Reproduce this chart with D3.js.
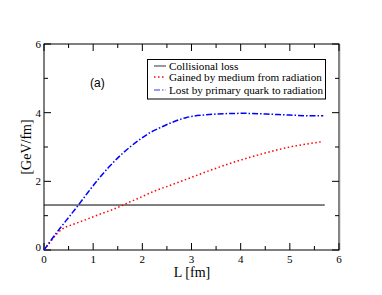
<!DOCTYPE html>
<html><head><meta charset="utf-8">
<script src="https://cdn.jsdelivr.net/npm/d3@7"></script>
<style>body{margin:0;background:#fff}svg{display:block}</style>
</head><body>
<script>
const xTicks=[0,1,2,3,4,5,6];
const yTicks=[0,2,4,6];
const collisional=[[0,1.31],[5.71,1.31]];
const gained=[[0,0],[0.12,0.22],[0.26,0.47],[0.36,0.6],[0.56,0.73],[0.77,0.84],[0.97,0.95],[1.17,1.06],[1.38,1.17],[1.58,1.29],[1.78,1.42],[1.99,1.55],[2.22,1.70],[2.56,1.88],[2.97,2.1],[3.38,2.32],[3.78,2.52],[4.19,2.7],[4.59,2.86],[5.0,3.0],[5.4,3.1],[5.68,3.16]];
const lost=[[0,0],[0.15,0.3],[0.33,0.64],[0.53,1.0],[0.7,1.31],[0.9,1.69],[1.11,2.07],[1.31,2.4],[1.55,2.75],[1.75,3.0],[1.95,3.22],[2.16,3.42],[2.33,3.54],[2.56,3.69],[2.9,3.86],[3.24,3.93],[3.65,3.97],[4.06,3.98],[4.53,3.96],[5.0,3.93],[5.4,3.91],[5.68,3.91]];
const legendLabels=["Collisional loss","Gained by medium from radiation","Lost by primary quark to radiation"];

const W=382,H=295;
const svg=d3.select("body").append("svg").attr("width",W).attr("height",H);
const x=d3.scaleLinear().domain([0,6]).range([44,339]);
const y=d3.scaleLinear().domain([0,6]).range([250,44]);
const serif="'Liberation Serif','DejaVu Serif',serif";

// frame
svg.append("rect").attr("x",44).attr("y",44).attr("width",295).attr("height",206)
  .attr("fill","none").attr("stroke","#000").attr("stroke-width",1);
svg.append("line").attr("x1",339.5).attr("x2",339.5).attr("y1",44).attr("y2",250).attr("stroke","#888").attr("stroke-width",1.5);

// ticks inward on all sides
const g=svg.append("g");
const xMinor=d3.range(0,6.01,0.5), yMinor=d3.range(0,6.01,1);
xMinor.forEach(v=>{
  const len=(v%1===0)?7:4;
  g.append("line").attr("x1",x(v)).attr("x2",x(v)).attr("y1",250).attr("y2",250-len).attr("stroke","#000");
  g.append("line").attr("x1",x(v)).attr("x2",x(v)).attr("y1",44).attr("y2",44+len).attr("stroke","#000");
});
yMinor.forEach(v=>{
  const len=(v%2===0)?7:4;
  g.append("line").attr("y1",y(v)).attr("y2",y(v)).attr("x1",44).attr("x2",44+len).attr("stroke","#000");
  g.append("line").attr("y1",y(v)).attr("y2",y(v)).attr("x1",339).attr("x2",339-len).attr("stroke","#000");
});
xTicks.forEach(v=>{
  g.append("text").attr("x",x(v)).attr("y",263).attr("text-anchor","middle")
   .attr("font-family",serif).attr("font-size",11).text(v);
});
yTicks.forEach(v=>{
  g.append("text").attr("x",41).attr("y",y(v)+(v===0?1:4)).attr("text-anchor","end")
   .attr("font-family",serif).attr("font-size",11).text(v);
});

svg.append("text").attr("x",192).attr("y",277).attr("text-anchor","middle")
  .attr("font-family",serif).attr("font-size",14).text("L [fm]");
svg.append("text").attr("transform","translate(31,147) rotate(-90)").attr("text-anchor","middle")
  .attr("font-family",serif).attr("font-size",14).text("[GeV/fm]");
svg.append("text").attr("x",90).attr("y",87).attr("font-family","'Liberation Sans',Arial,sans-serif")
  .attr("font-size",12).text("(a)");

const line=d3.line().x(d=>x(d[0])).y(d=>y(d[1])).curve(d3.curveMonotoneX);
svg.append("path").attr("d",line(collisional)).attr("fill","none").attr("stroke","#000").attr("stroke-width",1);
svg.append("path").attr("d",line(gained)).attr("fill","none").attr("stroke","#ff0000").attr("stroke-width",1.5).attr("stroke-dasharray","1.5,2.5");
svg.append("path").attr("d",line(lost)).attr("fill","none").attr("stroke","#0000ff").attr("stroke-width",1.5).attr("stroke-dasharray","6,2,1.5,2");

// legend
const lg=svg.append("g");
lg.append("rect").attr("x",147.5).attr("y",59.5).attr("width",178).attr("height",39.5)
  .attr("fill","#fff").attr("stroke","#000").attr("stroke-width",1);
const ly=[66,77,90];
const styles=[{c:"#777",d:null},{c:"#ff0000",d:"1.5,2.5"},{c:"#7777ff",d:"6,2,1.5,2"}];
legendLabels.forEach((t,i)=>{
  lg.append("line").attr("x1",154).attr("x2",166).attr("y1",ly[i]).attr("y2",ly[i])
    .attr("stroke",styles[i].c).attr("stroke-width",1.5).attr("stroke-dasharray",styles[i].d);
  lg.append("text").attr("x",169).attr("y",ly[i]+4).attr("font-family",serif).attr("font-size",11.2)
    .attr("textLength",t===legendLabels[2]?154:null).text(t);
});
</script>
</body></html>
